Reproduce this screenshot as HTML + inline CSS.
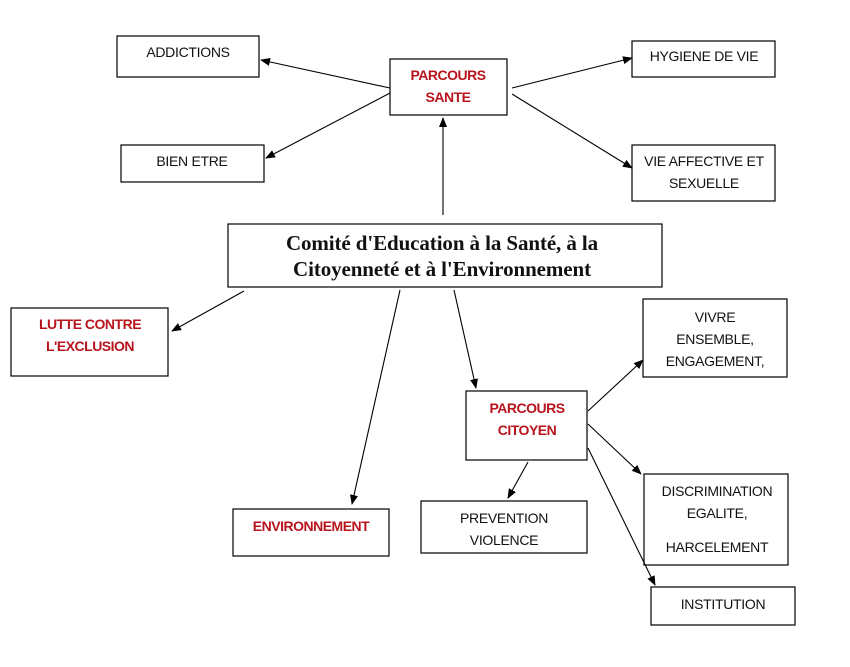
<!DOCTYPE html>
<html><head><meta charset="utf-8"><style>
body{margin:0;background:#fff;width:850px;height:667px;overflow:hidden}
svg{position:absolute;left:0;top:0}
text{font-family:"Liberation Sans",sans-serif;font-size:14px;letter-spacing:-0.3px;fill:#111}
.r{fill:#b8141e;font-weight:bold;letter-spacing:-0.5px}
.c{font-family:"Liberation Serif",serif;font-size:21px;font-weight:bold;letter-spacing:-0.1px}
rect{fill:#fff;stroke:#000;stroke-width:1.2}
line{stroke:#000;stroke-width:1.1;marker-end:url(#a)}
</style></head><body>
<svg width="850" height="667" viewBox="0 0 850 667">
<defs><marker id="a" markerWidth="10" markerHeight="8" refX="9" refY="4" orient="auto" markerUnits="userSpaceOnUse"><path d="M0,0 L10,4 L0,8 z" fill="#000"/></marker></defs>
<rect x="117" y="36" width="142" height="41"/><text x="188" y="57" text-anchor="middle">ADDICTIONS</text>
<rect x="390" y="59" width="117" height="56"/><text class="r" x="448" y="80" text-anchor="middle">PARCOURS</text><text class="r" x="448" y="102" text-anchor="middle">SANTE</text>
<rect x="632" y="41" width="143" height="36"/><text x="704" y="61" text-anchor="middle">HYGIENE DE VIE</text>
<rect x="121" y="145" width="143" height="37"/><text x="192" y="166" text-anchor="middle">BIEN ETRE</text>
<rect x="632" y="145" width="143" height="56"/><text x="704" y="166" text-anchor="middle">VIE AFFECTIVE ET</text><text x="704" y="188" text-anchor="middle">SEXUELLE</text>
<rect x="228" y="224" width="434" height="63"/><text class="c" x="442" y="250" text-anchor="middle">Comité d'Education à la Santé, à la</text><text class="c" x="442" y="276" text-anchor="middle">Citoyenneté et à l'Environnement</text>
<rect x="11" y="308" width="157" height="68"/><text class="r" x="90" y="329" text-anchor="middle">LUTTE CONTRE</text><text class="r" x="90" y="351" text-anchor="middle">L'EXCLUSION</text>
<rect x="643" y="299" width="144" height="78"/><text x="715" y="322" text-anchor="middle">VIVRE</text><text x="715" y="344" text-anchor="middle">ENSEMBLE,</text><text x="715" y="366" text-anchor="middle">ENGAGEMENT,</text>
<rect x="466" y="391" width="121" height="69"/><text class="r" x="527" y="413" text-anchor="middle">PARCOURS</text><text class="r" x="527" y="435" text-anchor="middle">CITOYEN</text>
<rect x="644" y="474" width="144" height="91"/><text x="717" y="496" text-anchor="middle">DISCRIMINATION</text><text x="717" y="518" text-anchor="middle">EGALITE,</text><text x="717" y="552" text-anchor="middle">HARCELEMENT</text>
<rect x="233" y="509" width="156" height="47"/><text class="r" x="311" y="531" text-anchor="middle">ENVIRONNEMENT</text>
<rect x="421" y="501" width="166" height="52"/><text x="504" y="523" text-anchor="middle">PREVENTION</text><text x="504" y="545" text-anchor="middle">VIOLENCE</text>
<rect x="651" y="587" width="144" height="38"/><text x="723" y="609" text-anchor="middle">INSTITUTION</text>
<line x1="390" y1="88" x2="261" y2="60"/>
<line x1="390" y1="93" x2="266" y2="158"/>
<line x1="512" y1="88" x2="632" y2="58"/>
<line x1="512" y1="94" x2="632" y2="168"/>
<line x1="443" y1="215" x2="443" y2="118"/>
<line x1="244" y1="291" x2="172" y2="331"/>
<line x1="400" y1="290" x2="352" y2="504"/>
<line x1="454" y1="290" x2="476" y2="388"/>
<line x1="588" y1="411" x2="643" y2="360"/>
<line x1="588" y1="424" x2="641" y2="474"/>
<line x1="588" y1="448" x2="655" y2="585"/>
<line x1="528" y1="462" x2="508" y2="498"/>
</svg>
</body></html>
